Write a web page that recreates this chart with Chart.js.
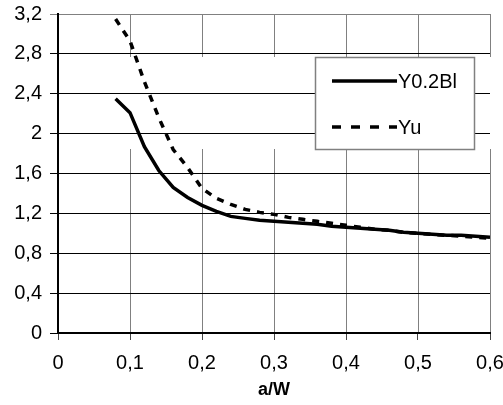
<!DOCTYPE html>
<html>
<head>
<meta charset="utf-8">
<script src="https://cdn.jsdelivr.net/npm/chart.js@4/dist/chart.umd.min.js"></script>
<style>
  html, body { margin: 0; padding: 0; background: #fff; }
  #wrap { width: 503px; height: 405px; position: relative; }
</style>
</head>
<body>
<div id="wrap"><canvas id="chart"></canvas></div>
<script>
// a/W positions
const aW = [0.08, 0.10, 0.12, 0.14, 0.16, 0.18, 0.20, 0.22, 0.24, 0.26, 0.28, 0.30, 0.32, 0.34,
  0.36, 0.38, 0.40, 0.42, 0.44, 0.46, 0.48, 0.50, 0.52, 0.54, 0.56, 0.58, 0.60];

const y02Bl = [2.35, 2.21, 1.87, 1.63, 1.46, 1.36, 1.28, 1.22, 1.17, 1.15, 1.13, 1.12, 1.11, 1.10,
  1.09, 1.07, 1.06, 1.05, 1.04, 1.03, 1.01, 1.00, 0.99, 0.98, 0.98, 0.97, 0.96];

const yu = [3.15, 2.93, 2.52, 2.16, 1.84, 1.66, 1.45, 1.35, 1.29, 1.24, 1.21, 1.19, 1.16, 1.14,
  1.12, 1.10, 1.08, 1.06, 1.04, 1.03, 1.01, 1.00, 0.99, 0.98, 0.97, 0.96, 0.95];

const seriesNames = ["Y0.2Bl", "Yu"];

const FONT = "'Liberation Sans', Arial, sans-serif";
const GRAY = "#808080";

// legend box, relative to the plot area
const LEGEND = { dx: 257, dy: 43, w: 159, h: 92 };

const fmt = (v) => Number(v.toFixed(1)).toString().replace(".", ",");

const toPoints = (ys) => aW.map((x, i) => ({ x: x, y: ys[i] }));

// vertical grid lines, with the gap Excel left across the legend band
const vGrid = {
  id: "vGrid",
  beforeDraw(chart) {
    const { ctx, chartArea: ca, scales } = chart;
    const gapTop = ca.top + LEGEND.dy;
    const gapBottom = gapTop + LEGEND.h;
    ctx.save();
    ctx.strokeStyle = GRAY;
    ctx.lineWidth = 1;
    scales.x.ticks.forEach((t) => {
      if (t.value <= 0) return;
      const px = Math.round(scales.x.getPixelForValue(t.value)) + 0.5;
      ctx.beginPath();
      ctx.moveTo(px, ca.top);
      ctx.lineTo(px, gapTop);
      ctx.moveTo(px, gapBottom);
      ctx.lineTo(px, ca.bottom);
      ctx.stroke();
    });
    ctx.restore();
  },
};

const boxLegend = {
  id: "boxLegend",
  afterDraw(chart) {
    const { ctx, chartArea: ca } = chart;
    const x = ca.left + LEGEND.dx;
    const y = ca.top + LEGEND.dy;
    ctx.save();
    ctx.fillStyle = "#fff";
    ctx.fillRect(x, y, LEGEND.w, LEGEND.h);
    ctx.strokeStyle = GRAY;
    ctx.lineWidth = 1.5;
    ctx.strokeRect(x + 0.5, y + 0.5, LEGEND.w, LEGEND.h);

    const rows = [y + 24, y + 70];
    chart.data.datasets.forEach((ds, i) => {
      const ly = rows[i];
      ctx.strokeStyle = "#000";
      ctx.lineWidth = 3.5;
      ctx.setLineDash(i === 1 ? [9, 10] : []);
      ctx.beginPath();
      ctx.moveTo(x + 17, ly);
      ctx.lineTo(x + 82, ly);
      ctx.stroke();
      ctx.setLineDash([]);
      ctx.fillStyle = "#000";
      ctx.font = "20px " + FONT;
      ctx.textBaseline = "middle";
      ctx.fillText(ds.label, x + 83, ly + 1);
    });
    ctx.restore();
  },
};

new Chart(document.getElementById("chart"), {
  type: "line",
  data: {
    datasets: [
      {
        label: seriesNames[0],
        data: toPoints(y02Bl),
        borderColor: "#000",
        borderWidth: 3.5,
        pointRadius: 0,
        tension: 0,
      },
      {
        label: seriesNames[1],
        data: toPoints(yu),
        borderColor: "#000",
        borderWidth: 3.5,
        borderDash: [7, 7],
        pointRadius: 0,
        tension: 0,
      },
    ],
  },
  options: {
    responsive: true,
    maintainAspectRatio: false,
    animation: false,
    layout: { padding: { top: 14, right: 13, left: 0, bottom: 0 } },
    plugins: {
      legend: { display: false },
      tooltip: { enabled: false },
    },
    scales: {
      x: {
        type: "linear",
        min: 0,
        max: 0.6,
        afterFit: (scale) => {
          scale.height = 72;
          scale.paddingLeft = 0;
          scale.paddingRight = 0;
        },
        ticks: {
          stepSize: 0.1,
          callback: (v) => fmt(v),
          color: "#000",
          padding: 11,
          maxRotation: 0,
          font: { family: FONT, size: 20 },
        },
        grid: {
          drawOnChartArea: false,
          drawTicks: true,
          tickLength: 7,
          tickColor: "#444",
        },
        border: { color: "#000", width: 2 },
        title: {
          display: true,
          text: "a/W",
          color: "#000",
          font: { family: FONT, size: 18, weight: "bold" },
          padding: { top: 0, bottom: 4 },
        },
      },
      y: {
        min: 0,
        max: 3.2,
        afterFit: (scale) => {
          scale.width = 58;
          scale.paddingTop = 0;
          scale.paddingBottom = 0;
        },
        ticks: {
          stepSize: 0.4,
          callback: (v) => fmt(v),
          color: "#000",
          padding: 8,
          font: { family: FONT, size: 20 },
        },
        grid: {
          color: (c) => (c.tick && c.tick.value >= 3.2 ? GRAY : "#000"),
          tickColor: (c) => (c.tick && c.tick.value >= 3.2 ? GRAY : "#000"),
          lineWidth: 1,
          tickLength: 8,
        },
        border: { color: "#000", width: 2 },
      },
    },
  },
  plugins: [vGrid, boxLegend],
});
</script>
</body>
</html>
